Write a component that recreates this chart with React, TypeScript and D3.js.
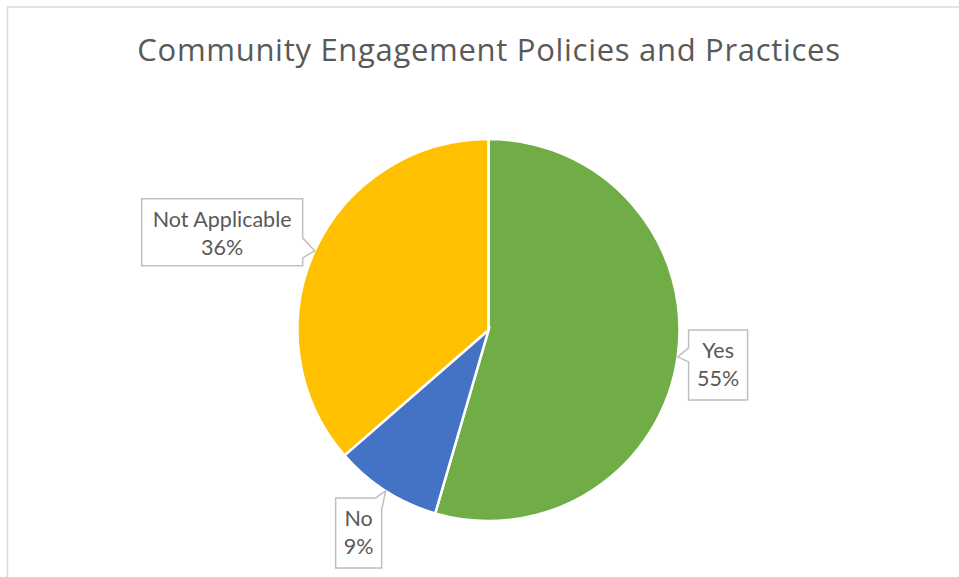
import React from "react";
import * as d3 from "d3";

const categories = ["Yes", "No", "Not Applicable"];
const values = [54.5, 9.1, 36.4];
const colors = ["#70AD47", "#4472C4", "#FFC000"];
const title = "Community Engagement Policies and Practices";

const W = 959;
const H = 577;
const cx = 488.5;
const cy = 330;
const R = 191;
const FONT = "Lato, 'Open Sans', sans-serif";
const TITLE_FONT = "'Open Sans', Lato, sans-serif";

// callout layout per category: box offset relative to the tip point, pointer side
const calloutLayout: Record<string, { dx: number; dy: number; w: number; h: number; side: string }> = {
  Yes: { dx: 11, dy: -27, w: 59, h: 70, side: "left" },
  No: { dx: -50, dy: 7, w: 46, h: 70, side: "top" },
  "Not Applicable": { dx: -173, dy: -52, w: 161, h: 67, side: "right" },
};

function calloutPath(x: number, y: number, w: number, h: number, tx: number, ty: number, side: string) {
  const p = d3.path();
  if (side === "left") {
    p.moveTo(x, y);
    p.lineTo(x + w, y);
    p.lineTo(x + w, y + h);
    p.lineTo(x, y + h);
    p.lineTo(x, ty + 5);
    p.lineTo(tx, ty);
    p.lineTo(x, ty - 9);
    p.closePath();
  } else if (side === "right") {
    p.moveTo(x, y);
    p.lineTo(x + w, y);
    p.lineTo(x + w, ty - 13);
    p.lineTo(tx, ty);
    p.lineTo(x + w, ty + 7);
    p.lineTo(x + w, y + h);
    p.lineTo(x, y + h);
    p.closePath();
  } else {
    p.moveTo(x, y);
    p.lineTo(x + w - 6, y);
    p.lineTo(tx, ty);
    p.lineTo(x + w, y + 12);
    p.lineTo(x + w, y + h);
    p.lineTo(x, y + h);
    p.closePath();
  }
  return p.toString();
}

export default function App() {
  const total = d3.sum(values);
  const pie = d3
    .pie<number>()
    .sort(null)
    .value((d) => d)
    .startAngle(0)
    .endAngle(2 * Math.PI);
  const arcs = pie(values);
  const arc = d3.arc<d3.PieArcDatum<number>>().innerRadius(0).outerRadius(R);
  const edge = d3.arc<d3.PieArcDatum<number>>().innerRadius(R).outerRadius(R);

  return (
    <svg
      width={W}
      height={H}
      style={{ position: "absolute", left: 0, top: 0, background: "#fff" }}
    >
      <rect x={7.5} y={7} width={1200} height={1200} fill="#fff" stroke="#D9D9D9" strokeWidth={1.5} />
      <text
        x={489}
        y={60.5}
        textAnchor="middle"
        fontFamily={TITLE_FONT}
        fontSize={31}
        letterSpacing={0.7}
        fill="#595959"
      >
        {title}
      </text>
      <g transform={`translate(${cx},${cy})`}>
        {arcs.map((a, i) => (
          <path key={categories[i]} d={arc(a) as string} fill={colors[i]} stroke="#fff" strokeWidth={2.5} strokeLinejoin="miter" />
        ))}
      </g>
      {arcs.map((a, i) => {
        const [ex, ey] = edge.centroid(a);
        const tx = cx + ex;
        const ty = cy + ey;
        const L = calloutLayout[categories[i]];
        const bx = tx + L.dx;
        const by = ty + L.dy;
        const pct = Math.round((values[i] / total) * 100) + "%";
        return (
          <g key={"lbl" + i}>
            <path
              d={calloutPath(bx, by, L.w, L.h, tx, ty, L.side)}
              fill="#fff"
              stroke="#BFBFBF"
              strokeWidth={1.5}
            />
            <text
              x={bx + L.w / 2}
              textAnchor="middle"
              fontFamily={FONT}
              fontSize={21.5}
              fill="#595959"
            >
              <tspan x={bx + L.w / 2} y={by + 28.5}>{categories[i]}</tspan>
              <tspan x={bx + L.w / 2} y={by + 56.5}>{pct}</tspan>
            </text>
          </g>
        );
      })}
    </svg>
  );
}
